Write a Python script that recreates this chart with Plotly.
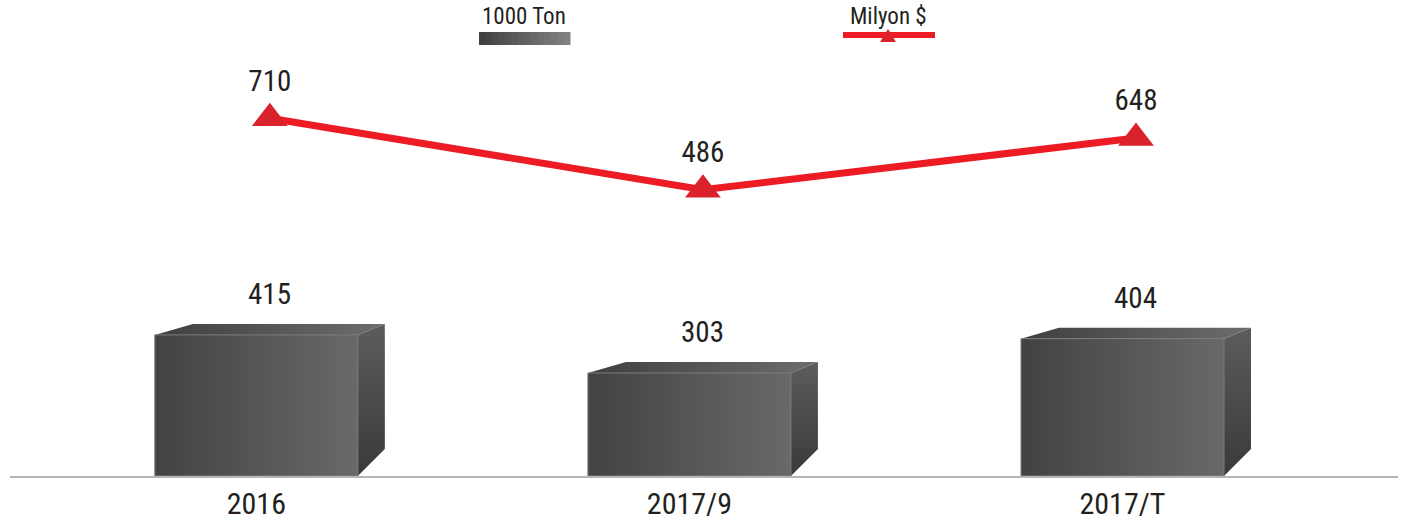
import plotly.graph_objects as go
import numpy as np

# ---------------- data ----------------
categories = ["2016", "2017/9", "2017/T"]
tons = [415, 303, 404]      # 1000 Ton (bars)
usd = [710, 486, 648]       # Milyon $ (line)
legend_names = ["1000 Ton", "Milyon $"]

# ---------------- layout constants ----------------
W, H = 1412, 524
M = dict(l=10, r=14, t=0, b=48, autoexpand=False)
plot_w = W - M["l"] - M["r"]
plot_h = H - M["t"] - M["b"]

x_range = [-0.6, 2.605]
y_range = [0, 1400]
y2_range = [-412, 1081]

px_x = plot_w / (x_range[1] - x_range[0])
px_y = plot_h / (y_range[1] - y_range[0])

FONT = "Liberation Sans Narrow, Roboto Condensed, Open Sans, sans-serif"
TXT = "#231f20"

bar_w = 203 / px_x      # front face width
dx = 27 / px_x          # depth offset (right side)
dxl = 38 / px_x         # depth offset (left of top face, perspective)
dy = 11 / px_y          # depth rise at top
dyb = 27 / px_y         # depth rise at bottom of side face

xs = np.arange(len(categories), dtype=float)
fc = xs - dx / 2        # front-face centres

fig = go.Figure()

# front faces as bars
fig.add_trace(go.Bar(
    x=fc, y=tons, width=bar_w, name=legend_names[0],
    marker=dict(color="#4f4e50", line=dict(width=0)),
    showlegend=False, hoverinfo="y",
))

for c, f, v in zip(xs, fc, tons):
    xl, xr = f - bar_w / 2, f + bar_w / 2
    # side face
    fig.add_trace(go.Scatter(
        x=[xr, xr + dx, xr + dx, xr, xr], y=[0, dyb, v + dy, v, 0],
        mode="lines", fill="toself",
        fillgradient=dict(type="vertical", colorscale=[[0, "#3a393b"], [1, "#5c5c5e"]]),
        line=dict(width=0, color="rgba(0,0,0,0)"),
        showlegend=False, hoverinfo="skip",
    ))
    # top face
    fig.add_trace(go.Scatter(
        x=[xl, xr, xr + dx, xl + dxl, xl], y=[v, v, v + dy, v + dy, v],
        mode="lines", fill="toself",
        fillgradient=dict(type="horizontal", colorscale=[[0, "#3f3e40"], [1, "#6d6d6f"]]),
        line=dict(width=0, color="rgba(0,0,0,0)"),
        showlegend=False, hoverinfo="skip",
    ))
    # front face gradient
    fig.add_trace(go.Scatter(
        x=[xl, xr, xr, xl, xl], y=[0, 0, v, v, 0],
        mode="lines", fill="toself",
        fillgradient=dict(type="horizontal", colorscale=[[0, "#424143"], [1, "#69696b"]]),
        line=dict(width=1, color="#7e7e80"),
        showlegend=False, hoverinfo="skip",
    ))

# line series
fig.add_trace(go.Scatter(
    x=xs, y=usd, yaxis="y2", name=legend_names[1],
    mode="lines+markers+text", text=[str(v) for v in usd],
    textposition="top center", textfont=dict(family=FONT, size=29, color=TXT),
    line=dict(color="#ed1c24", width=7),
    marker=dict(symbol="triangle-up", size=31, color="#d9222c"),
    showlegend=False, cliponaxis=False,
))

annotations = []
for c, v in zip(xs, tons):
    annotations.append(dict(
        x=c, y=v, xref="x", yref="y", text=str(v), showarrow=False,
        yanchor="bottom", yshift=22, font=dict(family=FONT, size=29, color=TXT),
    ))

# custom legend (text above swatch)
def pxp(px, py):
    return (px - M["l"]) / plot_w, (H - M["b"] - py) / plot_h

shapes = []
lx, ly = pxp(524, 17)
annotations.append(dict(x=lx, y=ly, xref="paper", yref="paper", text=legend_names[0],
                        xanchor="center", yanchor="middle",
                        showarrow=False, font=dict(family=FONT, size=23, color=TXT)))
mx, my = pxp(889, 17)
annotations.append(dict(x=mx, y=my, xref="paper", yref="paper", text=legend_names[1],
                        xanchor="center", yanchor="middle",
                        showarrow=False, font=dict(family=FONT, size=23, color=TXT)))

# gradient swatch for bars
n = 14
c0 = np.array([0x3f, 0x3e, 0x40]); c1 = np.array([0x84, 0x84, 0x86])
sx0, sx1 = 479, 570
for i in range(n):
    a0 = sx0 + (sx1 - sx0) * i / n
    a1 = sx0 + (sx1 - sx0) * (i + 1) / n + 0.5
    col = c0 + (c1 - c0) * (i + 0.5) / n
    x0p, y0p = pxp(a0, 45)
    x1p, y1p = pxp(a1, 32)
    shapes.append(dict(type="rect", xref="paper", yref="paper", x0=x0p, x1=x1p, y0=y0p, y1=y1p,
                       fillcolor="rgb(%d,%d,%d)" % tuple(col.astype(int)), line=dict(width=0)))

# red line + triangle
ax0, ay = pxp(843, 35)
ax1, _ = pxp(935, 35)
shapes.append(dict(type="line", xref="paper", yref="paper", x0=ax0, x1=ax1, y0=ay, y1=ay,
                   line=dict(color="#ed1c24", width=6)))
t1 = pxp(880, 42); t2 = pxp(896, 42); t3 = pxp(888, 29)
shapes.append(dict(type="path", xref="paper", yref="paper",
                   path="M %f %f L %f %f L %f %f Z" % (t1[0], t1[1], t2[0], t2[1], t3[0], t3[1]),
                   fillcolor="#d9222c", line=dict(width=0)))

fig.update_layout(
    width=W, height=H, margin=M,
    paper_bgcolor="white", plot_bgcolor="white",
    showlegend=False, barmode="overlay",
    xaxis=dict(range=x_range, tickvals=fc, ticktext=categories, showgrid=False,
               zeroline=False, showline=True, linecolor="#b5b5b5", linewidth=2,
               ticks="", ticklabelstandoff=0, automargin=False,
               tickfont=dict(family=FONT, size=30, color=TXT), fixedrange=True),
    yaxis=dict(range=y_range, visible=False, fixedrange=True, automargin=False),
    yaxis2=dict(range=y2_range, overlaying="y", visible=False, fixedrange=True, automargin=False),
    annotations=annotations, shapes=shapes,
)

fig.write_html("out.html", config=dict(displayModeBar=False),
               post_script="document.body.style.margin='0';document.body.style.overflow='hidden';")
